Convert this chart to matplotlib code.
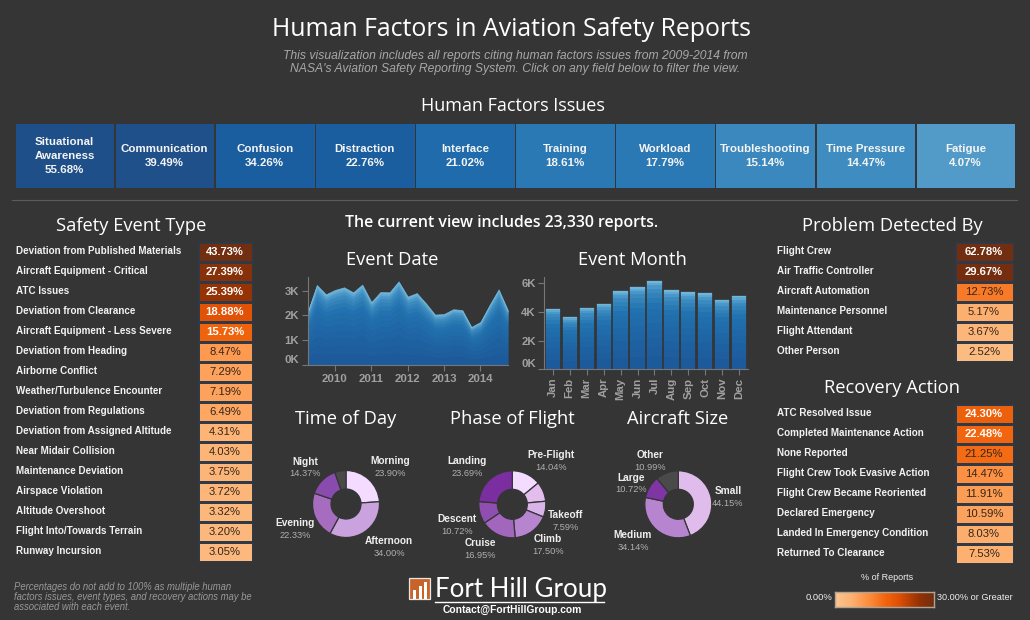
import numpy as np
import matplotlib
matplotlib.use("Agg")
import matplotlib.pyplot as plt
from matplotlib.colors import LinearSegmentedColormap, to_hex
from matplotlib.patches import Rectangle

BG = "#353535"
W, H = 1030, 620

issue_names = ["Situational\nAwareness", "Communication", "Confusion", "Distraction", "Interface",
               "Training", "Workload", "Troubleshooting", "Time Pressure", "Fatigue"]
issue_vals = [55.68, 39.49, 34.26, 22.76, 21.02, 18.61, 17.79, 15.14, 14.47, 4.07]
issue_colors = ["#1f4f88", "#20508a", "#1b5e9f", "#1b5e9f", "#1f6bac", "#2a78b4", "#2a78b4",
                "#3a88bd", "#3f8dc0", "#529bc9"]

event_names = ["Deviation from Published Materials", "Aircraft Equipment - Critical", "ATC Issues",
               "Deviation from Clearance", "Aircraft Equipment - Less Severe", "Deviation from Heading",
               "Airborne Conflict", "Weather/Turbulence Encounter", "Deviation from Regulations",
               "Deviation from Assigned Altitude", "Near Midair Collision", "Maintenance Deviation",
               "Airspace Violation", "Altitude Overshoot", "Flight Into/Towards Terrain", "Runway Incursion"]
event_vals = [43.73, 27.39, 25.39, 18.88, 15.73, 8.47, 7.29, 7.19, 6.49, 4.31, 4.03, 3.75, 3.72, 3.32, 3.20, 3.05]

detect_names = ["Flight Crew", "Air Traffic Controller", "Aircraft Automation", "Maintenance Personnel",
                "Flight Attendant", "Other Person"]
detect_vals = [62.78, 29.67, 12.73, 5.17, 3.67, 2.52]

recovery_names = ["ATC Resolved Issue", "Completed Maintenance Action", "None Reported",
                  "Flight Crew Took Evasive Action", "Flight Crew Became Reoriented", "Declared Emergency",
                  "Landed In Emergency Condition", "Returned To Clearance"]
recovery_vals = [24.30, 22.48, 21.25, 14.47, 11.91, 10.59, 8.03, 7.53]

date_x = [2009.25, 2009.5, 2009.75, 2010, 2010.25, 2010.5, 2010.75, 2011, 2011.25, 2011.5, 2011.75, 2012,
          2012.25, 2012.5, 2012.75, 2013, 2013.25, 2013.5, 2013.75, 2014, 2014.25, 2014.5, 2014.75]
date_y = [2155, 3225, 2850, 3025, 3130, 2930, 3240, 2540, 2945, 2930, 3370, 2760,
          2900, 2490, 2035, 2060, 2250, 2220, 1540, 1740, 2420, 3050, 2220]

months = ["Jan", "Feb", "Mar", "Apr", "May", "Jun", "Jul", "Aug", "Sep", "Oct", "Nov", "Dec"]
month_y = [4210, 3650, 4280, 4560, 5465, 5745, 6160, 5535, 5395, 5325, 4840, 5115]

band_shares = [0.15, 0.10, 0.11, 0.09, 0.08, 0.08, 0.07, 0.07, 0.06, 0.05, 0.05, 0.04, 0.03, 0.02]

tod_labels = ["Morning", "Afternoon", "Evening", "Night", ""]
tod_vals = [23.90, 34.00, 22.33, 14.37, 5.40]
tod_colors = ["#f3dcff", "#c9a2de", "#a56cc0", "#8a4bae", "#4a4a4a"]

phase_labels = ["Pre-Flight", "", "Takeoff", "Climb", "Cruise", "Descent", "Landing"]
phase_vals = [14.04, 9.51, 7.59, 17.50, 16.95, 10.72, 23.69]
phase_colors = ["#f3dcff", "#e2bdee", "#d9b4e8", "#b784cf", "#a266bd", "#8f4fb0", "#7a2ea0"]

size_labels = ["Small", "Medium", "Large", "Other"]
size_vals = [44.15, 34.14, 10.72, 10.99]
size_colors = ["#e0bcec", "#b784cf", "#7f35a3", "#4a4a4a"]

heat = LinearSegmentedColormap.from_list(
    "heat", [(0, "#fbc590"), (0.17, "#fdb070"), (0.35, "#fd8c3c"), (0.5, "#f3670f"),
             (0.65, "#de4f05"), (0.85, "#953305"), (1, "#722e10")])
blue = LinearSegmentedColormap.from_list(
    "bl", [(0, "#1d5a9b"), (0.55, "#2272b0"), (0.8, "#3d8ec2"), (1, "#70b6dc")])

plt.rcParams["font.family"] = ["Liberation Sans", "DejaVu Sans"]
fig = plt.figure(figsize=(W / 100, H / 100), dpi=100, facecolor=BG)


def ax_px(x0, y0, x1, y1, **kw):
    a = fig.add_axes([x0 / W, 1 - y1 / H, (x1 - x0) / W, (y1 - y0) / H], **kw)
    a.set_facecolor("none")
    return a


bg = ax_px(0, 0, W, H)
bg.set_xlim(0, W)
bg.set_ylim(H, 0)
bg.axis("off")
HEAD = ["Open Sans", "DejaVu Sans"]


def T(x, y, s, size=9, color="white", ha="center", weight="normal", family=None, style="normal", **kw):
    bg.text(x, y, s, fontsize=size, color=color, ha=ha, va="center", fontweight=weight,
            family=family if family else ["Liberation Sans", "DejaVu Sans"], style=style, **kw)


HS = 13.2
T(512, 29, "Human Factors in Aviation Safety Reports", size=17.95, family=HEAD)
T(515, 56, "This visualization includes all reports citing human factors issues from 2009-2014 from", size=8.75,
  color="#a8a8a8", style="italic")
T(515, 69, "NASA's Aviation Safety Reporting System. Click on any field below to filter the view.", size=8.75,
  color="#a8a8a8", style="italic")
T(513, 106, "Human Factors Issues", size=13, family=HEAD, weight="medium")
T(131, 226, "Safety Event Type", size=HS, family=HEAD)
T(502, 223, "The current view includes 23,330 reports.", size=11.4, family=HEAD, weight="semibold")
T(392, 260, "Event Date", size=HS, family=HEAD)
T(632, 260, "Event Month", size=HS, family=HEAD)
T(346, 419, "Time of Day", size=HS, family=HEAD)
T(512, 419, "Phase of Flight", size=HS, family=HEAD)
T(678, 419, "Aircraft Size", size=HS, family=HEAD)
T(892, 226, "Problem Detected By", size=HS, family=HEAD)
T(892, 388, "Recovery Action", size=HS, family=HEAD)

# top strip
ax = ax_px(15, 124, 1016, 188)
ax.bar(range(len(issue_vals)), [1] * len(issue_vals), width=0.985, color=issue_colors)
ax.set_xlim(-0.5, len(issue_vals) - 0.5)
ax.set_ylim(0, 1)
ax.axis("off")
for i, (n, v) in enumerate(zip(issue_names, issue_vals)):
    ax.text(i - 0.005, 0.5, f"{n}\n{v:.2f}%", color="#f4f4f4", fontsize=8.25, fontweight="bold", ha="center",
            va="center", linespacing=1.5)

bg.plot([12, 1017], [199.5, 199.5], color="#5c5c5c", lw=0.8)


def table(names, vals, xl, x0, x1, y0, vmax=30, fs=7.1):
    n = len(vals)
    a = ax_px(x0 - 0.5, y0, x1 + 0.5, y0 + 20 * n)
    a.pcolormesh([0, 1], np.arange(n + 1), np.array(vals).reshape(-1, 1), cmap=heat, vmin=0, vmax=vmax,
                 edgecolors="#303a46", linewidth=0.9)
    a.set_xlim(0, 1)
    a.set_ylim(n, 0)
    a.axis("off")
    for i, (nm, v) in enumerate(zip(names, vals)):
        hot = v / vmax >= 0.5
        a.text(0.5, i + 0.5, f"{v:.2f}%", color="white" if hot else "#33261c", fontsize=8.1, ha="center",
               va="center", fontweight="bold" if hot else "normal")
        T(xl, y0 + 20 * i + 9.5, nm, size=fs, ha="left", weight="bold", color="#f2f2f2")


table(event_names, event_vals, 16, 198, 252, 242)
table(detect_names, detect_vals, 777, 955, 1013, 242)
table(recovery_names, recovery_vals, 777, 955, 1013, 404, vmax=44)


def style_axis(a):
    a.set_facecolor("none")
    for s in ("top", "right"):
        a.spines[s].set_visible(False)
    for s in ("left", "bottom"):
        a.spines[s].set_color("#777777")
        a.spines[s].set_linewidth(0.8)
    a.tick_params(colors="#a0a0a0", length=4, width=0.8, color="#777777", labelsize=8.2, pad=2)
    for lab in a.get_xticklabels() + a.get_yticklabels():
        lab.set_fontweight("bold")


# area
ax = ax_px(307.7, 277.3, 507.7, 365.3)
shares = np.array(band_shares) / np.sum(band_shares)
cum = np.concatenate([[0], np.cumsum(shares)])
date_arr = np.array(date_y) / 1000
for i in range(len(shares)):
    c = blue(i / (len(shares) - 1))
    ax.fill_between(date_x, date_arr * cum[i], date_arr * cum[i + 1], facecolor=c, edgecolor=c, lw=0.4)
ax.set_xlim(2009.25, 2014.75)
ax.set_ylim(0, 3.53)
ax.set_xticks([2010, 2011, 2012, 2013, 2014])
ax.set_yticks([0, 1, 2, 3])
ax.set_yticklabels(["0K", "1K", "2K", "3K"])
style_axis(ax)
ax.get_yticklabels()[0].set_verticalalignment("bottom")

# months
ax = ax_px(544.3, 277, 747.7, 369.3)
month_arr = np.array(month_y) / 1000
xs = np.arange(12)
for i in range(len(shares)):
    c = blue(i / (len(shares) - 1))
    ax.bar(xs, month_arr * shares[i], bottom=month_arr * cum[i], width=0.84, facecolor=c, edgecolor=c, lw=0.2)
ax.set_xlim(-0.5, 11.5)
ax.set_ylim(0, 6.44)
ax.set_xticks(xs)
ax.set_xticklabels(months, rotation=90)
ax.set_yticks([0, 2, 4, 6])
ax.set_yticklabels(["0K", "2K", "4K", "6K"])
style_axis(ax)
ax.get_yticklabels()[0].set_verticalalignment("bottom")


def donut(cx, cy, vals, colors, r=33.5):
    a = ax_px(cx - 40, cy - 40, cx + 40, cy + 40)
    a.pie(vals, colors=colors, startangle=90, counterclock=False, radius=r / 40,
          wedgeprops=dict(width=(r - 15) / 40, edgecolor=BG, linewidth=0.9))
    a.set_xlim(-1, 1)
    a.set_ylim(-1, 1)
    a.set_aspect("equal")
    a.axis("off")


donut(346, 504, tod_vals, tod_colors)
donut(512.3, 504.3, phase_vals, phase_colors)
donut(678.3, 504.3, size_vals, size_colors)


def dlabels(labels, vals, pos):
    for l, v, p in zip(labels, vals, pos):
        if not l:
            continue
        T(p[0], p[1], l, size=7.3, weight="bold", color="#eeeeee")
        T(p[0], p[1] + 12, f"{v:.2f}%", size=6.7, color="#b0b0b0")


dlabels(tod_labels, tod_vals, [(390, 461), (389, 541), (295, 523), (305, 462), (0, 0)])
dlabels(phase_labels, phase_vals,
        [(551, 455), (0, 0), (566, 515), (548, 539), (480, 543), (457, 519), (467, 461)])
dlabels(size_labels, size_vals, [(728, 491), (633, 535), (631, 478), (650, 455)])

T(14, 587, "Percentages do not add to 100% as multiple human", size=6.85, ha="left", color="#989898", style="italic")
T(14, 597, "factors issues, event types, and recovery actions may be", size=6.85, ha="left", color="#989898", style="italic")
T(14, 607, "associated with each event.", size=6.85, ha="left", color="#989898", style="italic")

# logo
bg.add_patch(Rectangle((409, 578), 20.5, 21, facecolor="#c8642a", edgecolor="#e6e6e6", lw=0.9))
for bx, bh in zip((413, 418.5, 424), (9, 13, 17)):
    bg.add_patch(Rectangle((bx, 598.5 - bh), 3.2, bh, facecolor="white", lw=0))
T(435, 589, "Fort Hill Group", size=18.6, ha="left", family=["Lato", "DejaVu Sans"], weight="normal")
bg.plot([435, 604], [602, 602], color="white", lw=1)
T(512, 610, "Contact@FortHillGroup.com", size=7.4, weight="bold")

# legend
T(887, 577, "% of Reports", size=6.5, color="#eeeeee")
ax = ax_px(835, 592, 934, 606.5)
ax.imshow(np.linspace(0, 1, 200).reshape(1, -1), cmap=heat, aspect="auto")
ax.set_xticks([])
ax.set_yticks([])
for s in ax.spines.values():
    s.set_color("#b0a595")
    s.set_linewidth(1)
T(832, 598, "0.00%", size=6.8, ha="right", color="#eeeeee")
T(937, 598, "30.00% or Greater", size=6.6, ha="left", color="#eeeeee")

fig.savefig("out.png", dpi=100, facecolor=BG)
